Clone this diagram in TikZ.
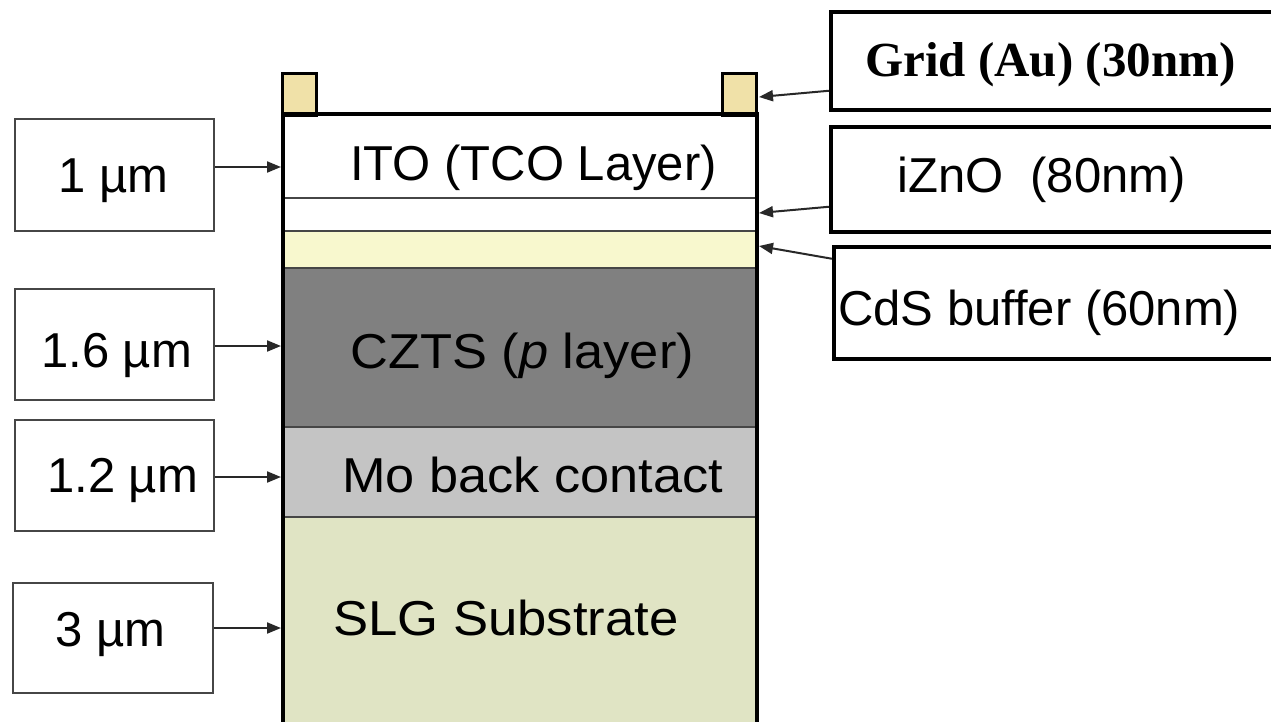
\documentclass[tikz,border=0pt]{standalone}
\usepackage{fontspec}
\setmainfont{Liberation Sans}
\newfontfamily\gridfont{Liberation Serif}
\usetikzlibrary{arrows.meta}
\definecolor{padc}{RGB}{240,225,168}
\definecolor{cdsc}{RGB}{248,248,206}
\definecolor{cztsc}{RGB}{128,128,128}
\definecolor{moc}{RGB}{196,196,196}
\definecolor{slgc}{RGB}{224,228,196}
\definecolor{linec}{RGB}{70,70,70}
\definecolor{arrc}{RGB}{40,40,40}
\tikzset{
  layer/.style={draw=linec, line width=1.5pt, minimum width=475pt, inner sep=0pt, outer sep=0pt},
  pad/.style={draw=black, line width=3pt, fill=padc, minimum width=34pt, minimum height=42pt, inner sep=0pt},
  lbox/.style={draw=linec, line width=2.5pt, fill=white, inner sep=0pt},
  rbox/.style={draw=black, line width=3.5pt, fill=white, inner sep=0pt},
  txt/.style={anchor=base west, inner sep=0pt, font=\fontsize{49}{58}\selectfont},
  arr/.style={draw=arrc, line width=2pt, -{Triangle[length=14pt,width=11pt]}}
}
\begin{document}
\begin{tikzpicture}[x=1pt,y=-1pt]
\useasboundingbox (0,0) rectangle (1271,721);
\clip (0,0) rectangle (1271,721);
\fill[white] (0,0) rectangle (1271,721);
% layers
\node[layer, fill=white, minimum height=84pt] (ito) at (519.5,156) {};
\node[layer, fill=white, minimum height=33pt] (izno) at (519.5,214.5) {};
\node[layer, fill=cdsc, minimum height=37pt] (cds) at (519.5,249.5) {};
\node[layer, fill=cztsc, minimum height=159pt] (czts) at (519.5,347.5) {};
\node[layer, fill=moc, minimum height=90pt] (mo) at (519.5,472) {};
\node[layer, fill=slgc, minimum height=208pt] (slg) at (519.5,621) {};
% grid pads
\node[pad] (padl) at (299,94) {};
\node[pad] (padr) at (739.5,94) {};
% outer border
\draw[line width=4pt] (282.5,725) -- (282.5,114) -- (757,114) -- (757,725);
% layer texts
\node[txt] (titol) at (350,180) {ITO (TCO Layer)};
\node[txt] (tczts) at (350,368) {\scalebox{1.07}[1]{CZTS (\textit{p} layer)}};
\node[txt] (tmo) at (342,492) {\scalebox{1.067}[1]{Mo back contact}};
\node[txt] (tslg) at (333,635) {\scalebox{1.075}[1]{SLG Substrate}};
% left boxes
\node[lbox, minimum width=199pt, minimum height=112pt] (b1) at (114.5,175) {};
\node[lbox, minimum width=199pt, minimum height=111pt] (b2) at (114.5,344.5) {};
\node[lbox, minimum width=199pt, minimum height=111pt] (b3) at (114.5,475.5) {};
\node[lbox, minimum width=200pt, minimum height=110pt] (b4) at (113,638) {};
\node[txt] (tb1) at (58,192) {1 µm};
\node[txt] (tb2) at (41,367) {1.6 µm};
\node[txt] (tb3) at (47,492) {1.2 µm};
\node[txt] (tb4) at (55,646) {3 µm};
% right boxes
\node[rbox, minimum width=460pt, minimum height=98pt, anchor=north west] (rg) at (829,10) {};
\node[rbox, minimum width=460pt, minimum height=105pt, anchor=north west] (ri) at (829,125) {};
\node[rbox, minimum width=460pt, minimum height=112pt, anchor=north west] (rc) at (832,245) {};
\node[anchor=base west, inner sep=0pt, font=\gridfont\bfseries\fontsize{49}{58}\selectfont] (tg) at (865,76) {Grid (Au) (30nm)};
\node[txt] (ti) at (897,192) {iZnO\ \ (80nm)};
\node[txt] (tc) at (838,325) {CdS buffer (60nm)};
% arrow targets
\coordinate (e1) at (281,167);
\coordinate (e2) at (281,346);
\coordinate (e3) at (281,477);
\coordinate (e4) at (281,628);
\coordinate (eg) at (759,97);
\coordinate (ei) at (759,213);
\coordinate (ec) at (759,246);
\draw[arr] (b1.east |- e1) -- (e1);
\draw[arr] (b2.east |- e2) -- (e2);
\draw[arr] (b3.east |- e3) -- (e3);
\draw[arr] (b4.east |- e4) -- (e4);
\draw[arr] ([yshift=-30pt]rg.west) -- (eg);
\draw[arr] ([yshift=-27.5pt]ri.west) -- (ei);
\draw[arr] ([yshift=44pt]rc.west) -- (ec);
\end{tikzpicture}
\end{document}
